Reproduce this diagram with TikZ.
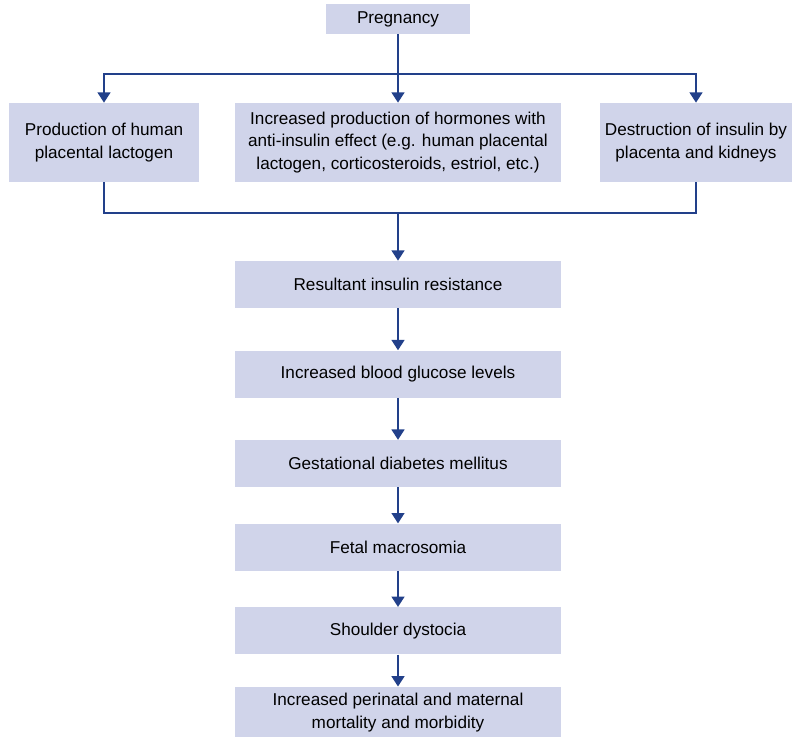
\documentclass[tikz,border=0pt]{standalone}
\usepackage{fontspec}
\setmainfont{Liberation Sans}
\usepackage{xcolor}
\usepackage{tikz}
\usetikzlibrary{arrows.meta,positioning}

\definecolor{boxfill}{RGB}{208,212,234}
\definecolor{linkblue}{RGB}{34,64,138}

\begin{document}
\begin{tikzpicture}[
    node distance=1cm,
    box/.style={rectangle, fill=boxfill, inner sep=2pt, minimum width=8.15cm, minimum height=1.175cm, align=center, font=\fontsize{12.2}{16.3}\selectfont},
    topbox/.style={box, minimum height=1.975cm},
    link/.style={linkblue, line width=1.5pt},
    arr/.style={link, -{Triangle[length=2.6mm, width=3.2mm]}}
]
\useasboundingbox (0,0) rectangle (19.8,-18.425);

\node[box, minimum width=3.6cm, minimum height=0.75cm] (preg) at (9.95,-0.475) {Pregnancy};

% first row
\node[topbox, minimum width=4.75cm] (hpl) at (2.6,-3.5625) {Production of human\\placental lactogen};
\node[topbox] (hormo) at (9.95,-3.5625) {Increased production of hormones with\\anti-insulin effect (e.g. human placental\\lactogen, corticosteroids, estriol, etc.)};
\node[topbox, minimum width=4.8cm] (dest) at (17.4,-3.5625) {Destruction of insulin by\\placenta and kidneys};

% chain
\node[box] (res) at (9.95,-7.1125) {Resultant insulin resistance};
\node[box, below=1.05cm of res] (gluc) {Increased blood glucose levels};
\node[box, below=1.05cm of gluc] (gdm) {Gestational diabetes mellitus};
\node[box, below=0.9cm of gdm] (macro) {Fetal macrosomia};
\node[box, below=0.9cm of macro] (dyst) {Shoulder dystocia};
\node[box, below=0.8cm of dyst, minimum height=1.3cm] (mort) {Increased perinatal and maternal\\mortality and morbidity};

\coordinate (split) at (9.95,-1.85);
\coordinate (join) at (9.95,-5.325);

\draw[link] (preg) -- (split);
\draw[arr] (split) -| (hpl);
\draw[arr] (split) -- (hormo);
\draw[arr] (split) -| (dest);
\draw[link] (hpl) |- (join) -| (dest);
\draw[arr] (join) -- (res);

\foreach \a/\b in {res/gluc, gluc/gdm, gdm/macro, macro/dyst, dyst/mort}
  \draw[arr] (\a) -- (\b);
\end{tikzpicture}
\end{document}
